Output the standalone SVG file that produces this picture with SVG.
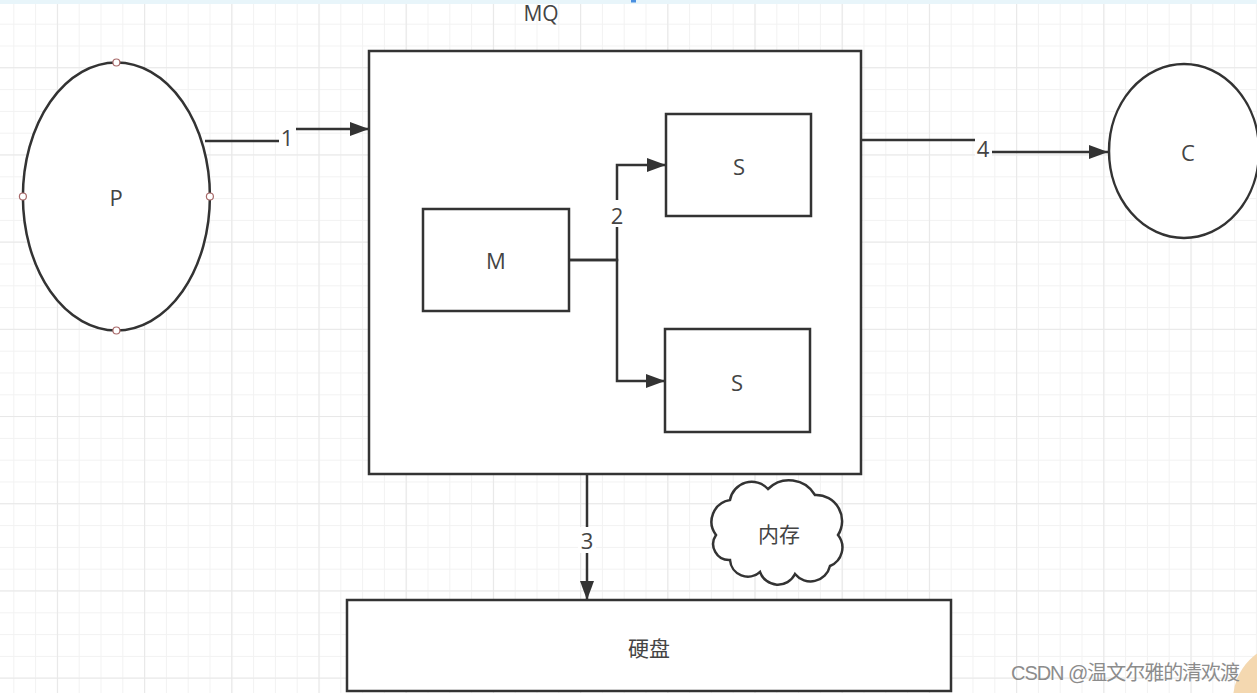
<svg xmlns="http://www.w3.org/2000/svg" width="1257" height="693" viewBox="0 0 1257 693">
<style>
.shape{fill:#fff;stroke:#333;stroke-width:2.5}
.conn{fill:none;stroke:#333;stroke-width:2.5}
.lbl{font-family:"Open Sans","Liberation Sans","Noto Sans CJK SC",sans-serif;font-size:22px;fill:#444;text-anchor:middle;dominant-baseline:central}
.handle{fill:#fff;stroke:#a86a6a;stroke-width:1.2}
.lblbg{fill:#fff}
</style>
<defs>
<pattern id="gMinor" patternUnits="userSpaceOnUse" x="13.3" y="1.9" width="21.8" height="21.8">
<path d="M0.5,0 V21.8 M0,0.5 H21.8" stroke="#f2f2f2" stroke-width="1" fill="none"/>
</pattern>
<pattern id="gMajor" patternUnits="userSpaceOnUse" x="56.9" y="67.2" width="87.2" height="87.2">
<path d="M0.5,0 V87.2 M0,0.5 H87.2" stroke="#e8e8e8" stroke-width="1.2" fill="none"/>
</pattern>
<marker id="arr" markerUnits="userSpaceOnUse" markerWidth="20" markerHeight="14" refX="19" refY="7" orient="auto">
<path d="M0,0 L19,7 L0,14 z" fill="#333"/>
</marker>
</defs>
<rect width="1257" height="693" fill="#fff"/>
<rect width="1257" height="693" fill="url(#gMinor)"/>
<rect width="1257" height="693" fill="url(#gMajor)"/>
<rect width="1257" height="4" fill="#e8f5fa"/>
<rect x="631" y="0" width="5" height="2.5" fill="#4a8fe0"/>
<circle cx="1290" cy="700" r="57" fill="#f4d8b0"/>

<g id="MQ">
<rect class="shape" x="369" y="51" width="492" height="423"/>
<text class="lbl" x="541" y="13" style="font-size:21px">MQ</text>
</g>
<g id="P">
<ellipse class="shape" cx="116.4" cy="196.5" rx="93.5" ry="134"/>
<text class="lbl" x="116" y="197">P</text>
<circle class="handle" cx="116.4" cy="62.5" r="3.5"/>
<circle class="handle" cx="116.4" cy="330.5" r="3.5"/>
<circle class="handle" cx="22.9" cy="196.5" r="3.5"/>
<circle class="handle" cx="209.9" cy="196.5" r="3.5"/>
</g>
<g id="M">
<rect class="shape" x="423" y="209" width="146" height="102"/>
<text class="lbl" x="496" y="260">M</text>
</g>
<g id="S1">
<rect class="shape" x="666" y="114" width="145" height="102"/>
<text class="lbl" x="739" y="166">S</text>
</g>
<g id="S2">
<rect class="shape" x="665" y="329" width="145" height="103"/>
<text class="lbl" x="737" y="382">S</text>
</g>
<g id="C">
<ellipse class="shape" cx="1184" cy="151" rx="75" ry="87"/>
<text class="lbl" x="1188" y="152">C</text>
</g>
<g id="memory">
<path class="shape" d="M716,535 A22,22 0 0 1 730,500 A22,22 0 0 1 768,489 A30,30 0 0 1 815,495 A26,26 0 0 1 838,535 A20,20 0 0 1 830,566 A20,20 0 0 1 795,574 A19,19 0 0 1 760,572 A18,18 0 0 1 730,560 A16,16 0 0 1 716,535 Z"/>
<text class="lbl" x="779" y="534" style="font-size:21px">内存</text>
</g>
<g id="disk">
<rect class="shape" x="347" y="600" width="604" height="91"/>
<text class="lbl" x="649" y="648" style="font-size:21px">硬盘</text>
</g>

<g id="connectors">
<path class="conn" d="M205,141 H287 V129 H369" marker-end="url(#arr)"/>
<rect class="lblbg" x="279" y="126" width="17" height="20"/>
<text class="lbl" x="287" y="137">1</text>

<path class="conn" d="M569,260 H617 V165 H666" marker-end="url(#arr)"/>
<path class="conn" d="M569,260 H617 V381 H665" marker-end="url(#arr)"/>
<rect class="lblbg" x="608" y="200" width="18" height="27"/>
<text class="lbl" x="617" y="215">2</text>

<path class="conn" d="M587,474 V600" marker-end="url(#arr)"/>
<rect class="lblbg" x="578" y="527" width="18" height="26"/>
<text class="lbl" x="587" y="540">3</text>

<path class="conn" d="M861,140 H983 V152 H1108" marker-end="url(#arr)"/>
<rect class="lblbg" x="975" y="137" width="17" height="20"/>
<text class="lbl" x="983" y="147.5">4</text>
</g>

<text x="1011" y="673" textLength="229" lengthAdjust="spacing" style="font-family:'Liberation Sans','Noto Sans CJK SC',sans-serif;font-size:20px;fill:#8c8c8c;dominant-baseline:central">CSDN @温文尔雅的清欢渡</text>
</svg>
